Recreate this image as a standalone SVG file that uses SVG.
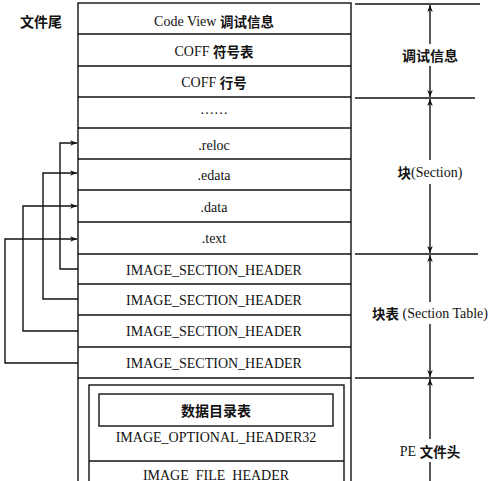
<svg xmlns="http://www.w3.org/2000/svg" width="500" height="481" viewBox="0 0 500 481">
<defs>
<marker id="ah" viewBox="0 0 10 10" refX="10" refY="5" markerWidth="9" markerHeight="7" markerUnits="userSpaceOnUse" orient="auto-start-reverse">
<path d="M0,1 L10,5 L0,9 L3,5 Z" fill="#111"/>
</marker>
</defs>
<style>
.ln{stroke:#111;stroke-width:1.4;fill:none}
.box{stroke:#111;stroke-width:1.4;fill:#fff}
.t{font-family:"Liberation Serif","Noto Sans CJK SC",serif;font-size:14px;fill:#111;text-anchor:middle;dominant-baseline:central}
.c{font-family:"Noto Sans CJK SC",sans-serif;font-size:14px;font-weight:bold;fill:#111;text-anchor:middle;dominant-baseline:central}
.h{font-family:"Noto Sans CJK SC",sans-serif;font-weight:bold;font-size:13.5px}
</style>
<rect width="500" height="481" fill="#fff"/>
<text class="c" x="41" y="21">文件尾</text>
<g id="main">
<rect class="box" x="78" y="3" width="273" height="490"/>
</g>
<g id="row-codeview"><line class="ln" x1="78" y1="34" x2="351" y2="34"/><text class="t" x="214" y="21">Code View <tspan class="h">调试信息</tspan></text></g>
<g id="row-coffsym"><line class="ln" x1="78" y1="66" x2="351" y2="66"/><text class="t" x="214" y="51">COFF <tspan class="h">符号表</tspan></text></g>
<g id="row-coffline"><line class="ln" x1="78" y1="97" x2="351" y2="97"/><text class="t" x="214" y="82">COFF <tspan class="h">行号</tspan></text></g>
<g id="row-dots"><line class="ln" x1="78" y1="128" x2="351" y2="128"/><text class="t" x="214" y="109">……</text></g>
<g id="row-reloc"><line class="ln" x1="78" y1="159" x2="351" y2="159"/><text class="t" x="214" y="145">.reloc</text></g>
<g id="row-edata"><line class="ln" x1="78" y1="190" x2="351" y2="190"/><text class="t" x="214" y="175">.edata</text></g>
<g id="row-data"><line class="ln" x1="78" y1="222" x2="351" y2="222"/><text class="t" x="214" y="207">.data</text></g>
<g id="row-text"><line class="ln" x1="78" y1="254" x2="351" y2="254"/><text class="t" x="214" y="238">.text</text></g>
<g id="row-sh1"><line class="ln" x1="78" y1="284" x2="351" y2="284"/><text class="t" x="214" y="270">IMAGE_SECTION_HEADER</text></g>
<g id="row-sh2"><line class="ln" x1="78" y1="315" x2="351" y2="315"/><text class="t" x="214" y="300">IMAGE_SECTION_HEADER</text></g>
<g id="row-sh3"><line class="ln" x1="78" y1="347" x2="351" y2="347"/><text class="t" x="214" y="331">IMAGE_SECTION_HEADER</text></g>
<g id="row-sh4"><line class="ln" x1="78" y1="378" x2="351" y2="378"/><text class="t" x="214" y="363">IMAGE_SECTION_HEADER</text></g>
<g id="pe-header">
<rect class="box" x="89" y="385" width="255" height="110"/>
<line class="ln" x1="89" y1="461" x2="344" y2="461"/>
<text class="t" x="216" y="437">IMAGE_OPTIONAL_HEADER32</text>
<text class="t" x="216" y="475">IMAGE_FILE_HEADER</text>
</g>
<g id="datadir">
<rect class="box" x="99" y="394" width="234" height="32"/>
<text class="c" x="216" y="410">数据目录表</text>
</g>
<g id="connectors">
<polyline class="ln" points="78,269 60,269 60,143 77,143" marker-end="url(#ah)"/>
<polyline class="ln" points="78,299 43,299 43,173 77,173" marker-end="url(#ah)"/>
<polyline class="ln" points="78,331 23,331 23,206 77,206" marker-end="url(#ah)"/>
<polyline class="ln" points="78,363 5,363 5,239 77,239" marker-end="url(#ah)"/>
<line class="ln" x1="355" y1="4" x2="480" y2="4"/>
<line class="ln" x1="355" y1="98" x2="475" y2="98"/>
<line class="ln" x1="355" y1="254" x2="478" y2="254"/>
<line class="ln" x1="355" y1="378" x2="474" y2="378"/>
<line class="ln" x1="430" y1="44" x2="430" y2="5" marker-end="url(#ah)"/>
<line class="ln" x1="430" y1="66" x2="430" y2="97" marker-end="url(#ah)"/>
<line class="ln" x1="430" y1="160" x2="430" y2="99" marker-end="url(#ah)"/>
<line class="ln" x1="430" y1="184" x2="430" y2="253" marker-end="url(#ah)"/>
<line class="ln" x1="430" y1="302" x2="430" y2="255" marker-end="url(#ah)"/>
<line class="ln" x1="430" y1="324" x2="430" y2="377" marker-end="url(#ah)"/>
<line class="ln" x1="430" y1="439" x2="430" y2="379" marker-end="url(#ah)"/>
<line class="ln" x1="430" y1="462" x2="430" y2="490"/>
</g>
<g id="labels">
<text class="c" x="430" y="55">调试信息</text>
<text class="t" x="430" y="172"><tspan class="h">块</tspan>(Section)</text>
<text class="t" x="430" y="313"><tspan class="h">块表</tspan> (Section Table)</text>
<text class="t" x="430" y="451">PE <tspan class="h">文件头</tspan></text>
</g>
</svg>
